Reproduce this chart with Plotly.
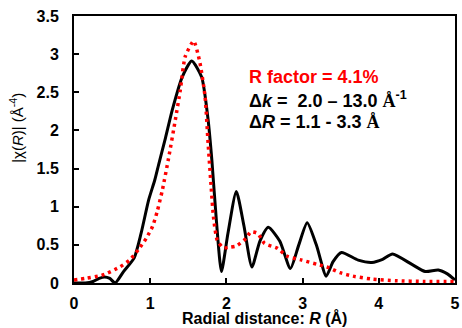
import plotly.graph_objects as go

# Experimental |chi(R)| (black solid)
r_exp = [0, 0.15, 0.25, 0.33, 0.40, 0.47, 0.54, 0.65, 0.79, 0.88, 0.98, 1.06, 1.11, 1.20, 1.29, 1.42,
         1.545, 1.675, 1.76, 1.81, 1.87, 1.935, 2.02, 2.13, 2.23, 2.335, 2.44, 2.55, 2.70, 2.84,
         2.95, 3.06, 3.18, 3.31, 3.40, 3.51, 3.73, 3.91, 4.05, 4.18, 4.44, 4.61, 4.78, 4.90, 5.0]
chi_exp = [0.0, 0.0, 0.02, 0.06, 0.08, 0.06, 0.0, 0.15, 0.33, 0.65, 1.09, 1.35, 1.55, 1.90, 2.27, 2.70,
           2.91, 2.70, 2.14, 1.60, 0.80, 0.15, 0.65, 1.20, 0.75, 0.21, 0.55, 0.73, 0.55, 0.19,
           0.50, 0.79, 0.50, 0.09, 0.28, 0.40, 0.30, 0.27, 0.31, 0.38, 0.24, 0.15, 0.17, 0.12, 0.04]

# Fit (red dotted)
r_fit = [0, 0.15, 0.36, 0.44, 0.60, 0.73, 0.855, 0.95, 1.03, 1.09, 1.16, 1.24, 1.33, 1.395, 1.46,
         1.57, 1.65, 1.72, 1.76, 1.80, 1.83, 1.88, 1.96, 2.05, 2.13, 2.26, 2.32, 2.41, 2.50, 2.67,
         2.80, 2.99, 3.19, 3.32, 3.49, 3.66, 3.92, 4.22, 4.6, 5.0]
chi_fit = [0.04, 0.06, 0.10, 0.13, 0.21, 0.30, 0.45, 0.59, 0.74, 0.93, 1.22, 1.63, 2.14, 2.53, 2.97,
           3.17, 2.90, 2.44, 1.83, 1.26, 0.87, 0.56, 0.46, 0.47, 0.485, 0.585, 0.67, 0.65, 0.52, 0.455,
           0.35, 0.30, 0.245, 0.21, 0.135, 0.09, 0.05, 0.03, 0.02, 0.02]

x_ticks = [0, 1, 2, 3, 4, 5]
y_ticks = [0, 0.5, 1, 1.5, 2, 2.5, 3, 3.5]
y_tick_labels = ["0", "0.5", "1", "1.5", "2", "2.5", "3", "3.5"]

FONT = "Liberation Sans, Arial, sans-serif"
SERIF = "Liberation Serif, Times New Roman, serif"

fig = go.Figure()
fig.add_trace(go.Scatter(x=r_exp, y=chi_exp, mode="lines",
                         line=dict(color="black", width=3, shape="spline", smoothing=0.6),
                         showlegend=False))
fig.add_trace(go.Scatter(x=r_fit, y=chi_fit, mode="lines",
                         line=dict(color="#ff0000", width=3.5, shape="spline", smoothing=0.6,
                                   dash="3px,4px"),
                         showlegend=False))

fig.update_layout(
    width=462, height=328,
    margin=dict(l=74, r=2, t=16, b=45),
    paper_bgcolor="white", plot_bgcolor="white",
    font=dict(family=FONT, color="black"),
    xaxis=dict(range=[0, 5], tickvals=x_ticks, ticktext=[f"<b>{v}</b>" for v in x_ticks],
               ticks="inside", ticklen=5, tickwidth=1.5, tickcolor="black",
               showline=True, linecolor="black", linewidth=2, mirror=True,
               showgrid=False, zeroline=False, tickfont=dict(size=16, family=FONT),
               ticklabelstandoff=5, ticklabeloverflow="allow"),
    yaxis=dict(range=[0, 3.5], tickvals=y_ticks, ticktext=[f"<b>{t}</b>" for t in y_tick_labels],
               ticks="inside", ticklen=5, tickwidth=1.5, tickcolor="black",
               showline=True, linecolor="black", linewidth=2, mirror=True,
               showgrid=False, zeroline=False, tickfont=dict(size=16, family=FONT),
               ticklabelstandoff=10, ticklabeloverflow="allow"),
)

ann_font = dict(family=FONT, size=18, color="black")
fig.add_annotation(x=2.27, y=2.70, xref="x", yref="y", xanchor="left", yanchor="middle",
                   text="<b>R factor = 4.1%</b>", showarrow=False,
                   font=dict(family=FONT, size=18, color="#ff0000"))
fig.add_annotation(x=2.27, y=2.40, xref="x", yref="y", xanchor="left", yanchor="middle",
                   text=f"<b>Δ<i>k</i> =&nbsp; 2.0 – 13.0 <span style='font-family:{SERIF}'>Å</span><sup>-1</sup></b>",
                   showarrow=False, font=ann_font)
fig.add_annotation(x=2.27, y=2.11, xref="x", yref="y", xanchor="left", yanchor="middle",
                   text=f"<b>Δ<i>R</i> = 1.1 - 3.3 <span style='font-family:{SERIF}'>Å</span></b>",
                   showarrow=False, font=ann_font)

fig.add_annotation(x=-0.153, y=0.58, xref="paper", yref="paper", xanchor="center", yanchor="middle",
                   text="|χ(<i>R</i>)| (Å<sup>-4</sup>)", textangle=-90, showarrow=False,
                   font=dict(family=FONT, size=15, color="black"))
fig.add_annotation(x=0.5, y=-0.131, xref="paper", yref="paper", xanchor="center", yanchor="middle",
                   text="<b>Radial distance: <i>R</i> (Å)</b>", showarrow=False,
                   font=dict(family=FONT, size=16, color="black"))

fig.write_html("out.html")
